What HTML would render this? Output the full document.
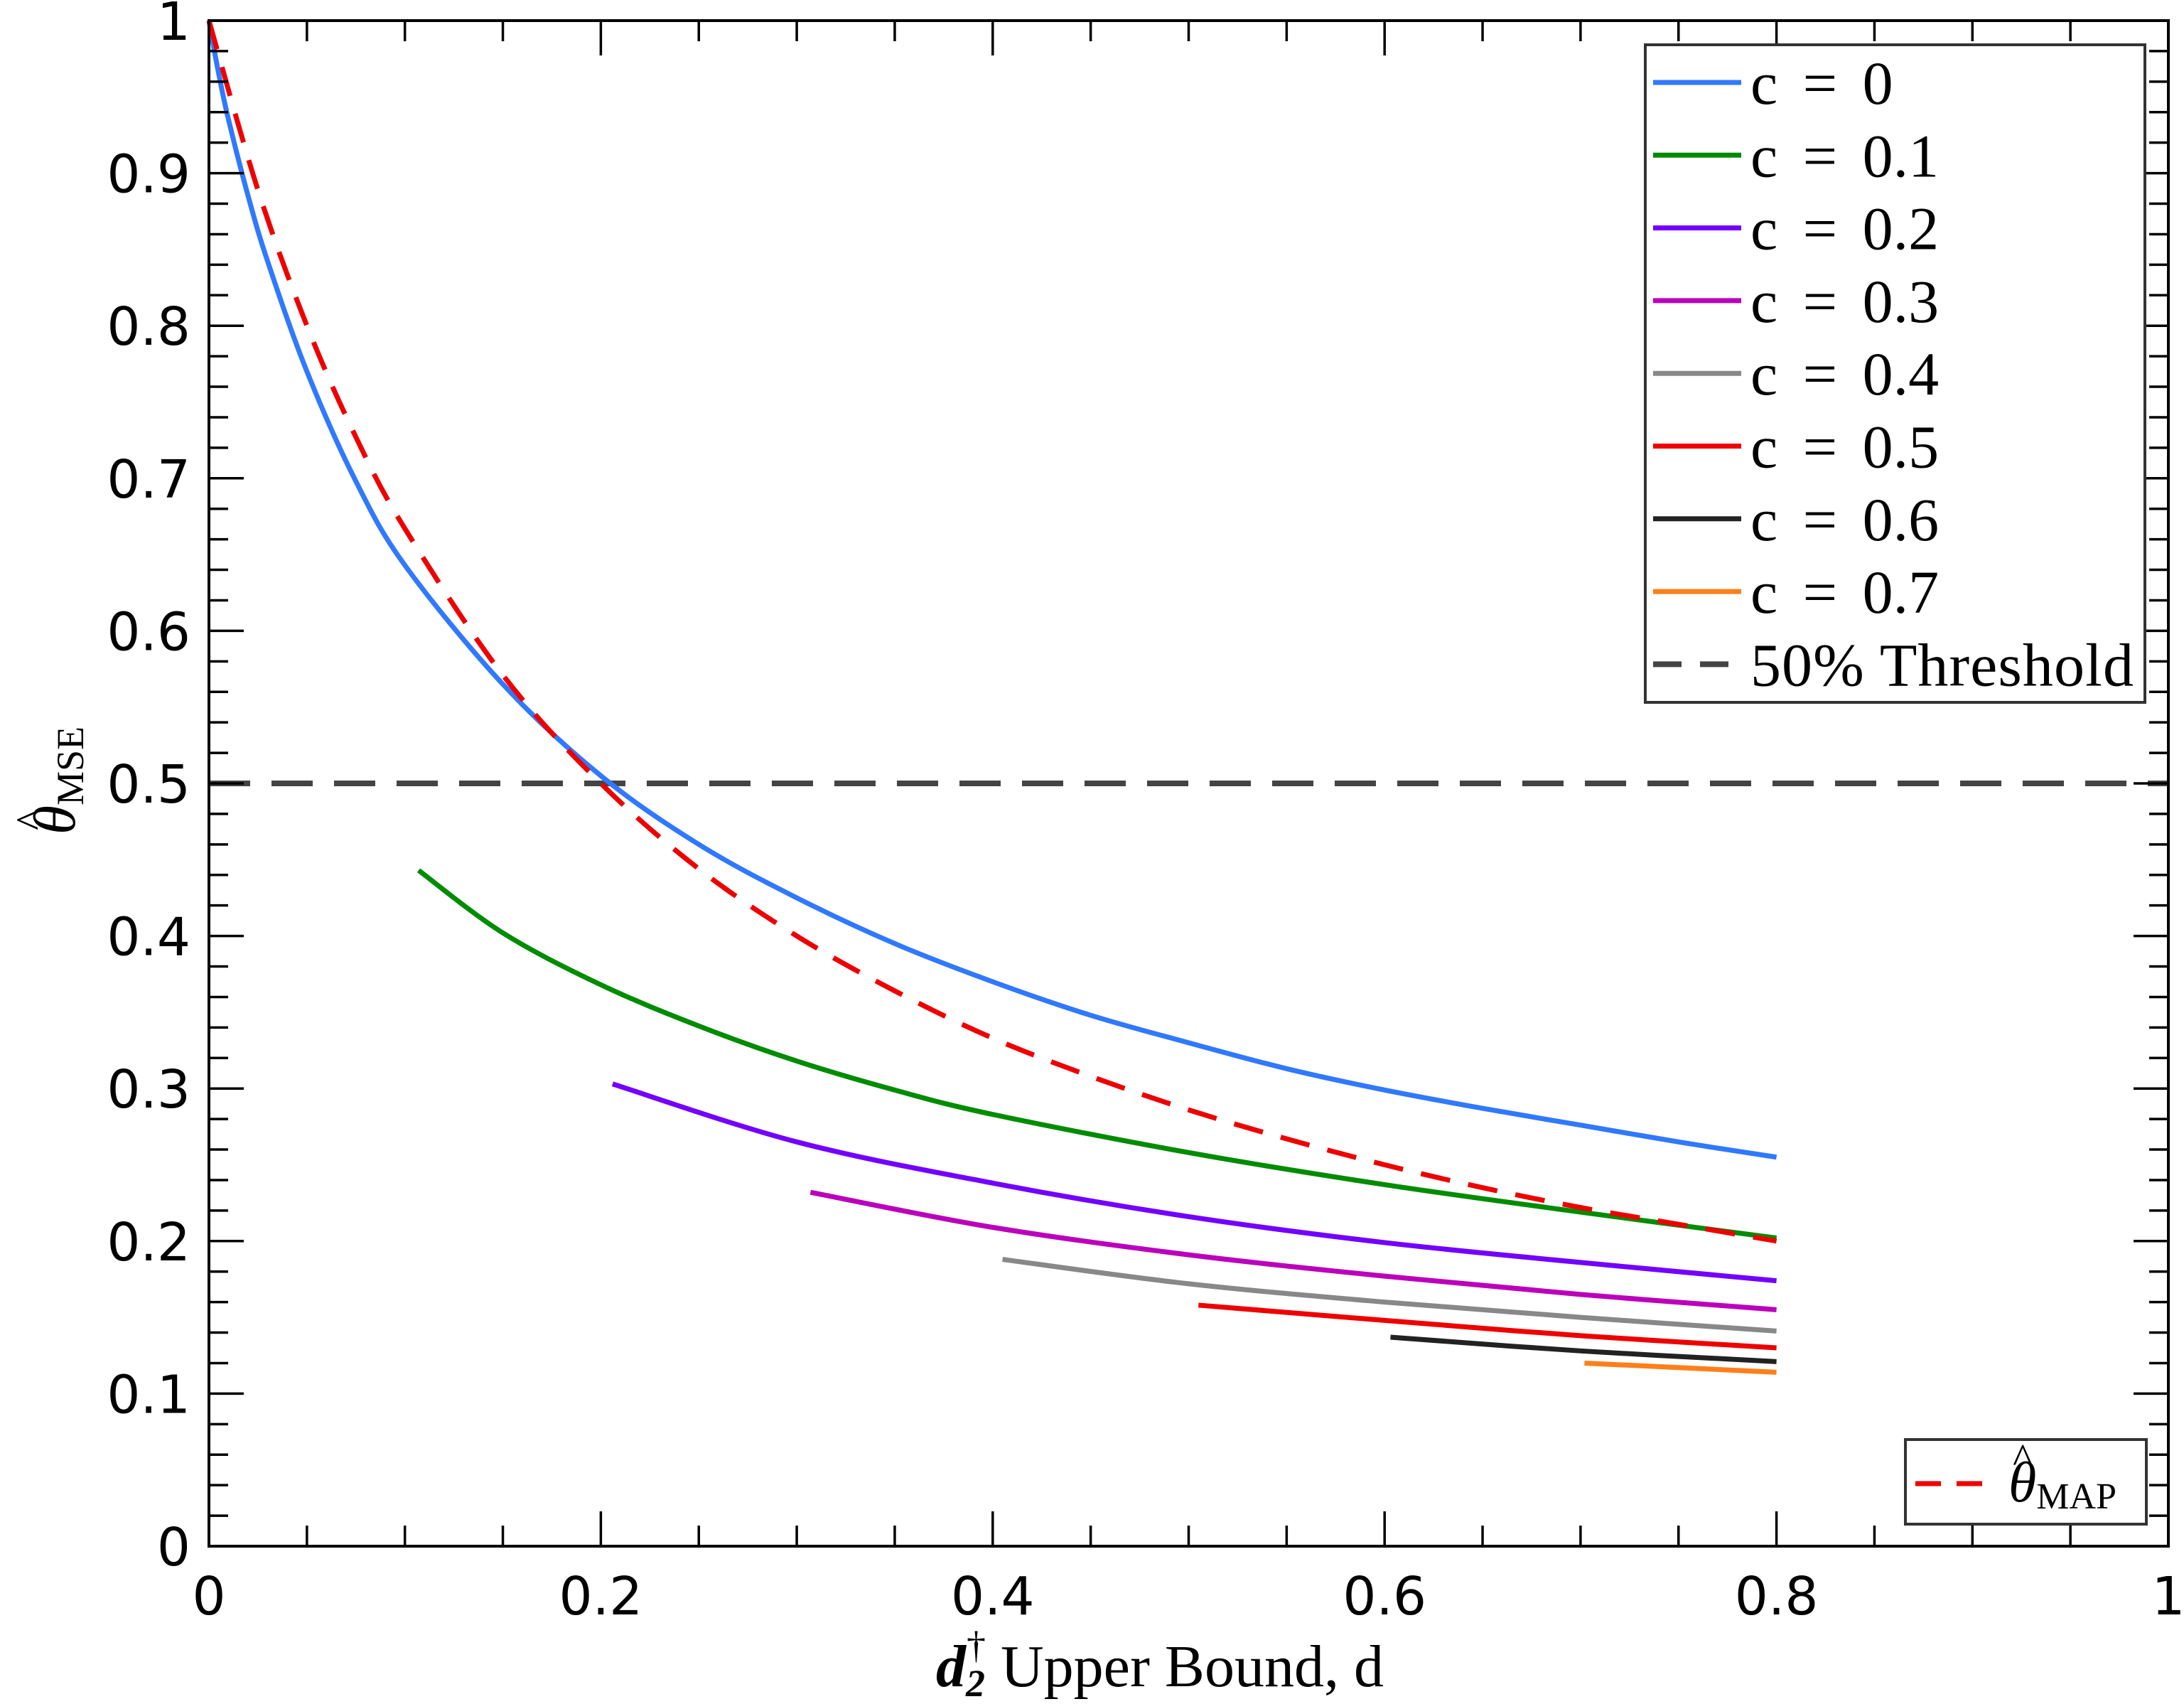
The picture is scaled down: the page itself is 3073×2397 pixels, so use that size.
<!DOCTYPE html>
<html><head><meta charset="utf-8"><style>
html,body{margin:0;padding:0;background:#fff}
svg{display:block}
.tk{font-family:"DejaVu Sans","Liberation Sans",sans-serif;font-size:74px;fill:#000}
.sf{font-family:"Liberation Serif",serif;fill:#000}
</style></head><body>
<svg id="chart" width="3073" height="2397" viewBox="0 0 3073 2397" xmlns="http://www.w3.org/2000/svg">
<rect x="0" y="0" width="3073" height="2397" fill="#fff"/>
<g id="series"></g>
<g id="axes"></g>
<g id="legend">
  <rect x="2315" y="63" width="703" height="925" fill="#fff" stroke="#333" stroke-width="4"/>
</g>
<g id="legend2">
  <rect x="2681" y="2025" width="339" height="119" fill="#fff" stroke="#333" stroke-width="4"/>
  <line x1="2695" y1="2087" x2="2808" y2="2087" stroke="#ee0000" stroke-width="7" stroke-dasharray="36,22"/>
  <text class="sf" x="2826" y="2112" font-size="80" font-style="italic">θ<tspan font-style="normal" font-size="52" dy="10">MAP</tspan></text>
  <text class="sf" x="2832" y="2072" font-size="60">^</text>
</g>
<text class="sf" x="1317" y="2372" font-size="84"><tspan font-weight="bold" font-style="italic">d</tspan><tspan font-weight="bold" font-style="italic" font-size="54" dy="14">2</tspan><tspan font-size="54" dx="-26" dy="-54">†</tspan><tspan dy="40"> Upper Bound, d</tspan></text>
<g transform="translate(105,1098) rotate(-90)">
  <text class="sf" font-size="84" font-style="italic" text-anchor="middle" x="0" y="0">θ<tspan font-style="normal" font-size="54" dy="12">MSE</tspan></text>
  <text class="sf" font-size="62" x="-70" y="-40">^</text>
</g>
</svg>
<script>
const xTicks = [0, 0.2, 0.4, 0.6, 0.8, 1];
const xTickLabels = ["0", "0.2", "0.4", "0.6", "0.8", "1"];
const yTicks = [0, 0.1, 0.2, 0.3, 0.4, 0.5, 0.6, 0.7, 0.8, 0.9, 1];
const yTickLabels = ["0", "0.1", "0.2", "0.3", "0.4", "0.5", "0.6", "0.7", "0.8", "0.9", "1"];

const c0x = [0, 0.005, 0.01, 0.02, 0.03, 0.05, 0.075, 0.1, 0.15, 0.2, 0.25, 0.3, 0.35, 0.4, 0.45, 0.5, 0.55, 0.6, 0.65, 0.7, 0.75, 0.8];
const c0y = [1, 0.965, 0.935, 0.885, 0.842, 0.77, 0.698, 0.643, 0.565, 0.505, 0.46, 0.425, 0.395, 0.37, 0.348, 0.33, 0.313, 0.299, 0.287, 0.276, 0.265, 0.255];
const c1x = [0.107, 0.15, 0.2, 0.25, 0.3, 0.35, 0.4, 0.5, 0.6, 0.7, 0.8];
const c1y = [0.443, 0.402, 0.368, 0.341, 0.318, 0.299, 0.283, 0.258, 0.237, 0.219, 0.202];
const c2x = [0.206, 0.3, 0.4, 0.5, 0.6, 0.7, 0.8];
const c2y = [0.303, 0.265, 0.238, 0.216, 0.199, 0.186, 0.174];
const c3x = [0.307, 0.4, 0.5, 0.6, 0.7, 0.8];
const c3y = [0.232, 0.209, 0.191, 0.177, 0.165, 0.155];
const c4x = [0.405, 0.5, 0.6, 0.7, 0.8];
const c4y = [0.188, 0.172, 0.160, 0.150, 0.141];
const c5x = [0.505, 0.6, 0.7, 0.8];
const c5y = [0.158, 0.148, 0.138, 0.130];
const c6x = [0.603, 0.7, 0.8];
const c6y = [0.137, 0.128, 0.121];
const c7x = [0.702, 0.8];
const c7y = [0.120, 0.114];
const mapX = [0, 0.025, 0.05, 0.075, 0.1, 0.15, 0.2, 0.25, 0.3, 0.35, 0.4, 0.45, 0.5, 0.55, 0.6, 0.65, 0.7, 0.75, 0.8];
const mapY = [1, 0.889, 0.8, 0.727, 0.667, 0.571, 0.5, 0.444, 0.4, 0.364, 0.333, 0.308, 0.286, 0.267, 0.25, 0.235, 0.222, 0.211, 0.2];
const threshold = [0.5];
const legendLabels = ["c = 0", "c = 0.1", "c = 0.2", "c = 0.3", "c = 0.4", "c = 0.5", "c = 0.6", "c = 0.7", "50% Threshold"];

const NS = "http://www.w3.org/2000/svg";
const L = 294, R = 3051, T = 29, B = 2175;
const sx = v => L + v * (R - L);
const sy = v => B - v * (B - T);

function mk(tag, attrs, parent) {
  const e = document.createElementNS(NS, tag);
  for (const k in attrs) e.setAttribute(k, attrs[k]);
  parent.appendChild(e);
  return e;
}
function smoothPath(xs, ys) {
  const p = xs.map((x, i) => [sx(x), sy(ys[i])]);
  let d = "M" + p[0][0] + "," + p[0][1];
  for (let i = 0; i < p.length - 1; i++) {
    const p0 = p[i - 1] || p[i], p1 = p[i], p2 = p[i + 1], p3 = p[i + 2] || p2;
    const c1 = [p1[0] + (p2[0] - p0[0]) / 6, p1[1] + (p2[1] - p0[1]) / 6];
    const c2 = [p2[0] - (p3[0] - p1[0]) / 6, p2[1] - (p3[1] - p1[1]) / 6];
    d += "C" + c1[0] + "," + c1[1] + " " + c2[0] + "," + c2[1] + " " + p2[0] + "," + p2[1];
  }
  return d;
}

const series = document.getElementById("series");
const specs = [
  [c0x, c0y, "#3079ff", "curve-c0"],
  [c1x, c1y, "#008c00", "curve-c01"],
  [c2x, c2y, "#7300ff", "curve-c02"],
  [c3x, c3y, "#bb00bb", "curve-c03"],
  [c4x, c4y, "#888888", "curve-c04"],
  [c5x, c5y, "#ee0000", "curve-c05"],
  [c6x, c6y, "#222222", "curve-c06"],
  [c7x, c7y, "#ff7f1a", "curve-c07"]
];
const th = mk("line", {x1: sx(0), x2: sx(1), y1: sy(threshold[0]), y2: sy(threshold[0]), stroke: "#444", "stroke-width": 8, "stroke-dasharray": "58,30"}, series);


specs.forEach(s => {
  const p = mk("path", {d: smoothPath(s[0], s[1]), fill: "none", stroke: s[2], "stroke-width": 7}, series);
  
  
});
const mp = mk("path", {d: smoothPath(mapX, mapY), fill: "none", stroke: "#ee0000", "stroke-width": 7, "stroke-dasharray": "42,26"}, series);



const axes = document.getElementById("axes");
const frame = mk("rect", {x: L, y: T, width: R - L, height: B - T, fill: "none", stroke: "#000", "stroke-width": 4}, axes);


for (let i = 0; i <= 20; i++) {
  const v = i * 0.05, x = sx(v), len = (i % 4 === 0) ? 49 : 29;
  mk("line", {x1: x, x2: x, y1: B, y2: B - len, stroke: "#000", "stroke-width": 3.5}, axes);
  mk("line", {x1: x, x2: x, y1: T, y2: T + len, stroke: "#000", "stroke-width": 3.5}, axes);
}
for (let i = 0; i <= 50; i++) {
  const v = i * 0.02, y = sy(v), len = (i % 5 === 0) ? 49 : 27;
  mk("line", {x1: L, x2: L + len, y1: y, y2: y, stroke: "#000", "stroke-width": 3.5}, axes);
  mk("line", {x1: R, x2: R - len, y1: y, y2: y, stroke: "#000", "stroke-width": 3.5}, axes);
}
xTicks.forEach((v, i) => {
  const t = mk("text", {x: sx(v), y: 2271, "text-anchor": "middle", class: "tk"}, axes);
  t.textContent = xTickLabels[i];
  
  
});
yTicks.forEach((v, i) => {
  const t = mk("text", {x: 268, y: sy(v) + 27, "text-anchor": "end", class: "tk"}, axes);
  t.textContent = yTickLabels[i];
  
  
});

const leg = document.getElementById("legend");
const legColors = ["#3079ff", "#008c00", "#7300ff", "#bb00bb", "#888888", "#ee0000", "#222222", "#ff7f1a", "#444"];
legendLabels.forEach((lab, i) => {
  const y = 116 + i * 102.3;
  const ln = mk("line", {x1: 2326, x2: 2450, y1: y, y2: y, stroke: legColors[i], "stroke-width": i === 8 ? 8 : 7}, leg);
  if (i === 8) ln.setAttribute("stroke-dasharray", "40,26");
  
  
  const t = mk("text", {x: 2463, y: y + 30, class: "sf", "font-size": 86}, leg);
  t.textContent = lab;
  t.setAttribute("word-spacing", i === 8 ? "0" : "14");
  if (i === 8) t.setAttribute("textLength", "539");
  
  
});
</script>
</body></html>
